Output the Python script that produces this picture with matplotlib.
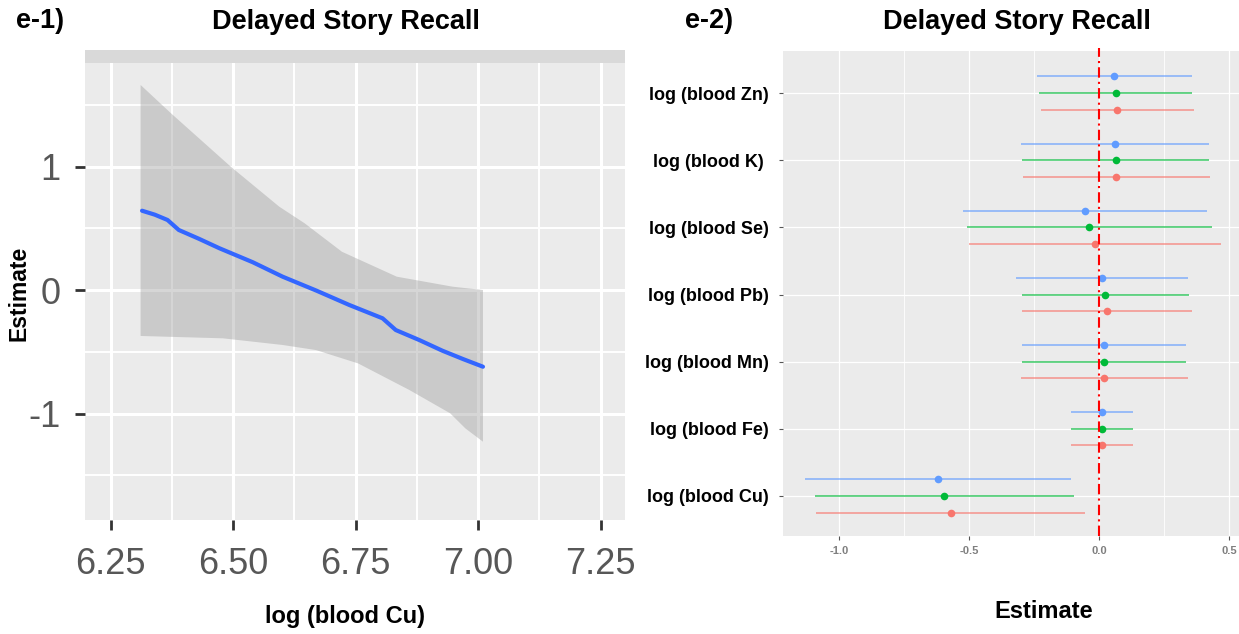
import numpy as np
import matplotlib
matplotlib.use('Agg')
import matplotlib.pyplot as plt

# ------------------------------------------------------------------------------------------ #
# datos del panel e-1 (curva de efecto de log Cu)
cu_linea_x = [6.314, 6.340, 6.366, 6.389, 6.430, 6.472, 6.540, 6.601, 6.670, 6.737, 6.805,
              6.832, 6.880, 6.927, 6.970, 7.010]
cu_linea_y = [0.642, 0.610, 0.567, 0.486, 0.415, 0.338, 0.225, 0.108, -0.005, -0.121, -0.229,
              -0.324, -0.405, -0.491, -0.560, -0.621]

cu_sup_x = [6.311, 6.373, 6.495, 6.594, 6.646, 6.722, 6.834, 6.948, 7.010]
cu_sup_y = [1.660, 1.431, 0.999, 0.675, 0.540, 0.310, 0.108, 0.027, 0.000]
cu_inf_x = [6.311, 6.479, 6.601, 6.669, 6.755, 6.860, 6.943, 6.974, 7.010]
cu_inf_y = [-0.372, -0.391, -0.445, -0.486, -0.594, -0.810, -0.998, -1.120, -1.228]

x_ticks_1 = [6.25, 6.50, 6.75, 7.00, 7.25]
y_ticks_1 = [-1, 0, 1]

# ------------------------------------------------------------------------------------------ #
# datos del panel e-2 (estimados e intervalos por metal, de arriba hacia abajo)
metales = ['log (blood Zn)', 'log (blood K) ', 'log (blood Se)', 'log (blood Pb)',
           'log (blood Mn)', 'log (blood Fe)', 'log (blood Cu)']

est_azul = [0.059, 0.062, -0.053, 0.012, 0.019, 0.012, -0.621]
inf_azul = [-0.238, -0.300, -0.523, -0.318, -0.297, -0.107, -1.130]
sup_azul = [0.356, 0.422, 0.415, 0.341, 0.336, 0.132, -0.107]

est_verde = [0.065, 0.065, -0.037, 0.022, 0.019, 0.012, -0.596]
inf_verde = [-0.230, -0.297, -0.506, -0.297, -0.297, -0.107, -1.091]
sup_verde = [0.356, 0.422, 0.434, 0.344, 0.336, 0.132, -0.096]

est_rojo = [0.068, 0.065, -0.016, 0.032, 0.019, 0.012, -0.571]
inf_rojo = [-0.225, -0.293, -0.502, -0.297, -0.300, -0.107, -1.088]
sup_rojo = [0.364, 0.427, 0.470, 0.359, 0.340, 0.132, -0.053]

x_ticks_2 = [-1.0, -0.5, 0.0, 0.5]

# ------------------------------------------------------------------------------------------ #
plt.rcParams['font.family'] = ['Liberation Sans', 'DejaVu Sans']

W, H = 1239, 634
fig = plt.figure(figsize=(W / 100, H / 100), dpi=100)


def caja(x0, y0, x1, y1):
    # convierte pixeles (arriba-izquierda) a fracciones de figura
    return [x0 / W, 1 - y1 / H, (x1 - x0) / W, (y1 - y0) / H]


fondo = '#EBEBEB'

# ------------------------------------------------------------------------------------------ #
# panel e-1
ax1 = fig.add_axes(caja(85, 63, 625, 520))
ax1.set_facecolor(fondo)
ax1.set_xlim(6.1975, 7.30)
ax1.set_ylim(-1.862, 1.838)
ax1.set_xticks(x_ticks_1)
ax1.set_xticklabels(['%.2f' % v for v in x_ticks_1])
ax1.set_yticks(y_ticks_1)
ax1.set_yticklabels([str(v) for v in y_ticks_1])
ax1.set_xticks([6.375, 6.625, 6.875, 7.125], minor=True)
ax1.set_yticks([-1.5, -0.5, 0.5, 1.5], minor=True)
ax1.grid(which='major', color='white', lw=2.2)
ax1.grid(which='minor', color='white', lw=1.4)
ax1.set_axisbelow(True)
for s in ax1.spines.values():
    s.set_visible(False)
ax1.tick_params(which='major', length=7.5, width=2, color='#333333', labelsize=26,
                labelcolor='#575757')
ax1.tick_params(axis='x', pad=12)
ax1.tick_params(axis='y', pad=10)
ax1.tick_params(which='minor', length=0)

ax1.fill(cu_sup_x + cu_inf_x[::-1], cu_sup_y + cu_inf_y[::-1], color='#999999', alpha=0.4,
         lw=0)
ax1.plot(cu_linea_x, cu_linea_y, color='#3366FF', lw=3, solid_capstyle='round')

# franja superior (strip) de ggplot
franja = fig.add_axes(caja(85, 50, 625, 63))
franja.set_facecolor('#D9D9D9')
franja.set_xticks([])
franja.set_yticks([])
for s in franja.spines.values():
    s.set_visible(False)

# ------------------------------------------------------------------------------------------ #
# panel e-2
ax2 = fig.add_axes(caja(783, 51, 1239, 536))
ax2.set_facecolor(fondo)
ax2.set_xlim(-1.2154, 0.538)
ax2.set_ylim(0.4, 7.63)
pos = np.arange(len(metales), 0, -1)
ax2.set_yticks(pos)
ax2.set_yticklabels(metales)
ax2.set_xticks(x_ticks_2)
ax2.set_xticklabels(['%.1f' % v for v in x_ticks_2])
ax2.set_xticks([-0.75, -0.25, 0.25], minor=True)
ax2.grid(which='major', color='white', lw=0.9)
ax2.grid(which='minor', axis='x', color='white', lw=0.6)
ax2.set_axisbelow(True)
for s in ax2.spines.values():
    s.set_visible(False)
ax2.tick_params(which='major', length=3, width=0.8, color='#555555')
ax2.tick_params(which='minor', length=0)
ax2.tick_params(axis='y', labelsize=13, pad=7)
ax2.tick_params(axis='x', labelsize=8, labelcolor='#7F7F7F', pad=4)
for t in ax2.get_yticklabels():
    t.set_fontweight('bold')
for t in ax2.get_xticklabels():
    t.set_fontweight('bold')

series = [(est_azul, inf_azul, sup_azul, '#619CFF', 0.25),
          (est_verde, inf_verde, sup_verde, '#00BA38', 0.0),
          (est_rojo, inf_rojo, sup_rojo, '#F8766D', -0.25)]
for est, inf, sup, col, desp in series:
    ax2.hlines(pos + desp, inf, sup, color=col, lw=1.4, alpha=0.6)
    ax2.plot(est, pos + desp, 'o', color=col, ms=5.5, mec='none')

ax2.plot([0, 0], [0.4, 7.68], color='red', lw=1.5, ls=(0, (5, 2, 1, 2)), clip_on=False)

# ------------------------------------------------------------------------------------------ #
# textos
fig.text(16 / W, 1 - 21 / H, 'e-1)', fontsize=19.5, fontweight='bold', ha='left', va='center')
fig.text(346 / W, 1 - 22 / H, 'Delayed Story Recall', fontsize=19.5, fontweight='bold',
         ha='center', va='center')
fig.text(19 / W, 1 - 293 / H, 'Estimate', fontsize=16.5, fontweight='bold', rotation=90,
         ha='center', va='center')
fig.text(345 / W, 1 - 617 / H, 'log (blood Cu)', fontsize=17, fontweight='bold',
         ha='center', va='center')

fig.text(685 / W, 1 - 21 / H, 'e-2)', fontsize=19.5, fontweight='bold', ha='left', va='center')
fig.text(1017 / W, 1 - 22 / H, 'Delayed Story Recall', fontsize=19.5, fontweight='bold',
         ha='center', va='center')
fig.text(1044 / W, 1 - 611 / H, 'Estimate', fontsize=17, fontweight='bold',
         ha='center', va='center')

fig.savefig('out.png', dpi=100)
